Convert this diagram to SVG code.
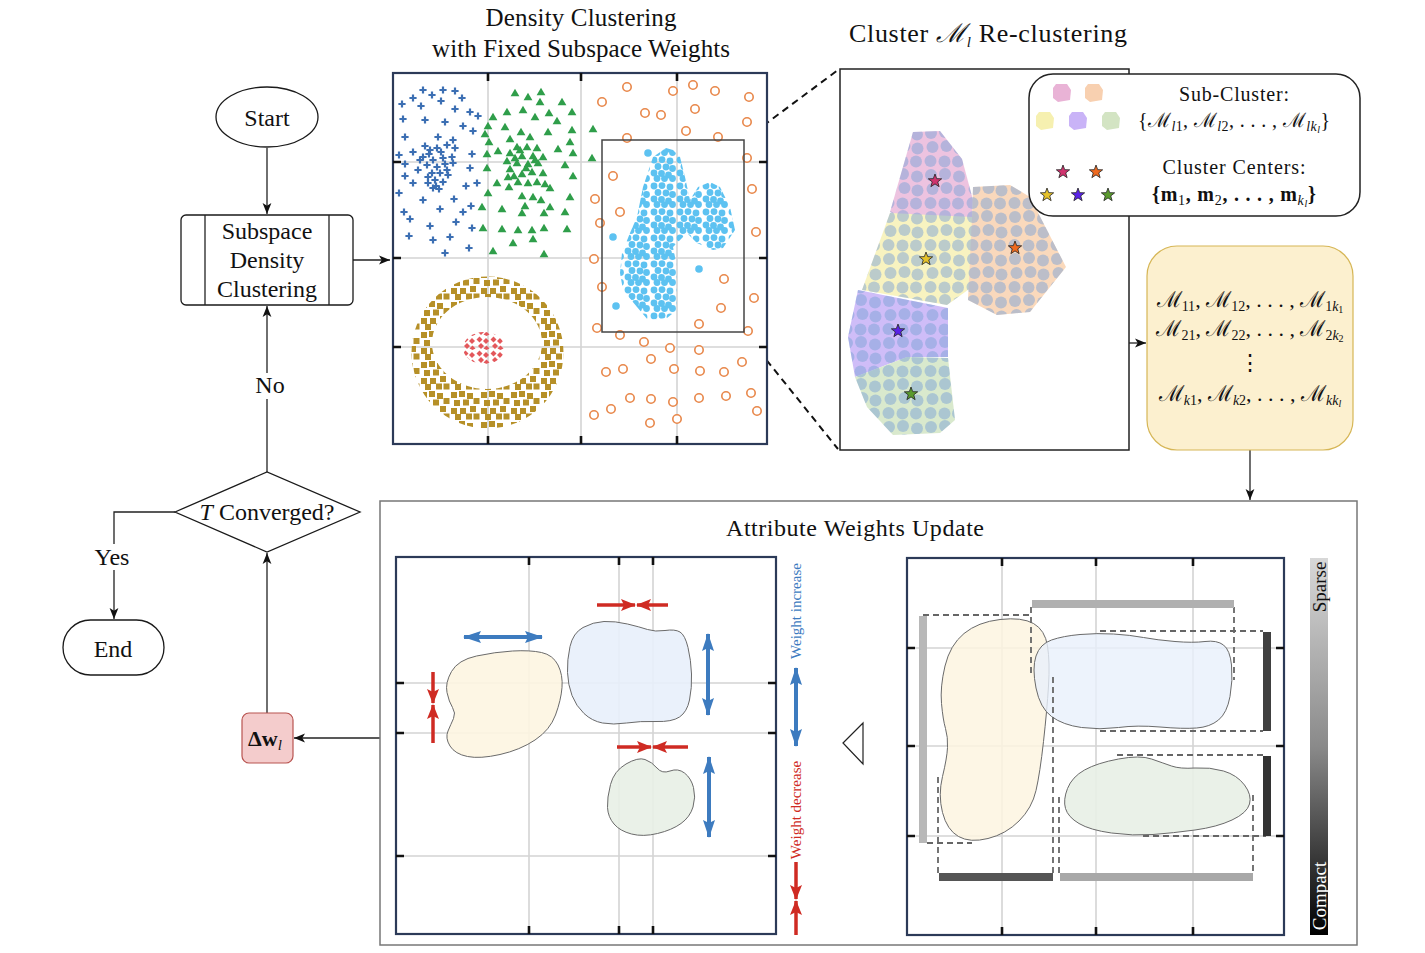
<svg xmlns="http://www.w3.org/2000/svg" width="1425" height="953" viewBox="0 0 1425 953">
<defs>
<style>
text{font-family:"Liberation Serif","DejaVu Serif",serif;fill:#111}
.t24{font-size:24px}
.t25{font-size:25px}
.leg{font-size:20px}
.sb{font-size:14px}
.node{fill:#fff;stroke:#1a1a1a;stroke-width:1.3}
.conn{fill:none;stroke:#222;stroke-width:1.3}
.grid{stroke:#d4d4d4;stroke-width:1.6;fill:none}
.tick{stroke:#111;stroke-width:2.6}
.frame{fill:#fff;stroke:#2c3a58;stroke-width:2.2}
.blob{stroke:#6a6a6a;stroke-width:1}
.dash{stroke:#666;stroke-width:1.8;stroke-dasharray:6 4;fill:none}
.bl{stroke:#3d7bbf;stroke-width:4;fill:none}
.rd{stroke:#cf2b23;stroke-width:3.5;fill:none}
.pts{fill:none;stroke:none}
</style>
<marker id="ah" viewBox="0 0 10 10" refX="10" refY="5" markerWidth="11" markerHeight="11" markerUnits="userSpaceOnUse" orient="auto"><path d="M0,1 L10,5 L0,9 L2.5,5 Z" fill="#111"/></marker>
<marker id="bh" viewBox="0 0 18 12" refX="17" refY="6" markerWidth="18" markerHeight="12" markerUnits="userSpaceOnUse" orient="auto-start-reverse"><path d="M0,0 L18,6 L0,12 L3,6 Z" fill="#3d7bbf"/></marker>
<marker id="rh" viewBox="0 0 15 12" refX="14" refY="6" markerWidth="15" markerHeight="12" markerUnits="userSpaceOnUse" orient="auto"><path d="M0,0 L15,6 L0,12 L3,6 Z" fill="#cf2b23"/></marker>
<marker id="mCr" viewBox="-5 -5 10 10" refX="0" refY="0" markerWidth="10" markerHeight="10" markerUnits="userSpaceOnUse"><path d="M-3.6,0H3.6M0,-3.6V3.6" stroke="#3c6fb3" stroke-width="2.2"/></marker>
<marker id="mTr" viewBox="-5 -5 10 10" refX="0" refY="0" markerWidth="10" markerHeight="10" markerUnits="userSpaceOnUse"><path d="M0,-4.3 L4.4,3.3 L-4.4,3.3 Z" fill="#2f9e4a"/></marker>
<marker id="mOc" viewBox="-6 -6 12 12" refX="0" refY="0" markerWidth="12" markerHeight="12" markerUnits="userSpaceOnUse"><circle r="4.2" fill="#fff" stroke="#e8874a" stroke-width="1.6"/></marker>
<marker id="mLb" viewBox="-5 -5 10 10" refX="0" refY="0" markerWidth="10" markerHeight="10" markerUnits="userSpaceOnUse"><circle r="3.8" fill="#5dc2f1"/></marker>
<pattern id="pDot" width="26" height="26" patternUnits="userSpaceOnUse"><g fill="#5dc2f1"><circle cx="4" cy="4" r="3.4"/><circle cx="12" cy="3.6" r="3.4"/><circle cx="20" cy="5" r="3.4"/><circle cx="8" cy="10.5" r="3.4"/><circle cx="16" cy="11" r="3.4"/><circle cx="22.5" cy="12.5" r="3.4"/><circle cx="4" cy="17" r="3.4"/><circle cx="11.5" cy="17.5" r="3.4"/><circle cx="18.5" cy="19" r="3.4"/><circle cx="7" cy="22.5" r="3.4"/><circle cx="14.5" cy="22.6" r="3.4"/><circle cx="22.5" cy="22.5" r="3.4"/></g></pattern>
<pattern id="pSq" width="30" height="30" patternUnits="userSpaceOnUse"><g fill="#b69028"><rect x="1" y="2" width="6" height="6"/><rect x="9" y="1" width="6" height="6"/><rect x="17" y="3" width="6" height="6"/><rect x="23.5" y="8" width="6" height="6"/><rect x="4" y="10" width="6" height="6"/><rect x="13" y="9.5" width="6" height="6"/><rect x="20" y="16" width="6" height="6"/><rect x="1" y="18" width="6" height="6"/><rect x="10" y="18" width="6" height="6"/><rect x="16" y="23.5" width="6" height="6"/><rect x="5" y="24" width="6" height="6"/><rect x="23.5" y="23.5" width="6" height="6"/></g></pattern>
<pattern id="pDia" width="14" height="14" patternUnits="userSpaceOnUse"><g fill="#e3575b"><polygon points="3.5,0.5 6.5,3.5 3.5,6.5 0.5,3.5"/><polygon points="10,2 13,5 10,8 7,5"/><polygon points="5,7 8,10 5,13 2,10"/><polygon points="10.5,9.5 13.5,12.5 10.5,13.9 7.5,12.5"/></g></pattern>
<pattern id="pC" width="42" height="42" patternUnits="userSpaceOnUse"><g fill="#7ea3d6" fill-opacity="0.5"><circle cx="7" cy="7" r="6"/><circle cx="21" cy="6" r="6"/><circle cx="35" cy="8.5" r="6"/><circle cx="8.5" cy="21" r="6"/><circle cx="22.5" cy="20" r="6"/><circle cx="35.5" cy="22.5" r="6"/><circle cx="6.5" cy="35" r="6"/><circle cx="20.5" cy="35.5" r="6"/><circle cx="34" cy="35.5" r="6"/></g></pattern>
<clipPath id="subclip">
<polygon points="913,132 940,131 962,159 973,200 972,217 910,222 890,212"/>
<polygon points="890,213 972,217 972,287 947,305 862,290"/>
<polygon points="973,187 1010,185 1030,197 1066,267 1030,312 997,315 968,300 972,217"/>
<polygon points="858,290 948,308 948,357 907,357 855,377 848,337"/>
<polygon points="855,377 907,357 948,358 955,420 940,433 893,435 867,407"/>
</clipPath>
<path id="star" d="M0,-7 L1.7,-2.35 L6.66,-2.16 L2.76,0.9 L4.11,5.66 L0,2.9 L-4.11,5.66 L-2.76,0.9 L-6.66,-2.16 L-1.7,-2.35 Z" stroke="#222" stroke-width="0.8"/>
<path id="lblob" d="M-6,-9 L5,-9 L9,-3 L8,7 L-4,9 L-9,5 L-9,-5 Z"/>
<linearGradient id="gbar" x1="0" y1="0" x2="0" y2="1"><stop offset="0" stop-color="#d8d8d8"/><stop offset="0.5" stop-color="#8a8a8a"/><stop offset="1" stop-color="#000"/></linearGradient>
</defs>

<rect width="1425" height="953" fill="#fff"/>

<!-- connectors -->
<g id="connectors">
<line class="conn" x1="267" y1="148" x2="267" y2="214" marker-end="url(#ah)"/>
<line class="conn" x1="353" y1="260" x2="390" y2="260" marker-end="url(#ah)"/>
<line class="conn" x1="267" y1="472" x2="267" y2="306" marker-end="url(#ah)"/>
<polyline class="conn" points="175,512 114,512 114,619" marker-end="url(#ah)"/>
<line class="conn" x1="267" y1="713" x2="267" y2="553" marker-end="url(#ah)"/>
<line class="conn" x1="380" y1="738" x2="294" y2="738" marker-end="url(#ah)"/>
<line class="conn" x1="1129" y1="343" x2="1146" y2="343" marker-end="url(#ah)"/>
<line class="conn" x1="1250" y1="450" x2="1250" y2="500" marker-end="url(#ah)"/>
<line x1="744" y1="140" x2="838" y2="70" stroke="#111" stroke-width="2" stroke-dasharray="7 5"/>
<line x1="744" y1="332" x2="838" y2="449" stroke="#111" stroke-width="2" stroke-dasharray="7 5"/>
<rect x="254" y="373" width="32" height="26" fill="#fff"/>
<text x="270" y="393" text-anchor="middle" class="t24">No</text>
<rect x="92" y="544" width="42" height="26" fill="#fff"/>
<text x="112" y="565" text-anchor="middle" class="t24">Yes</text>
</g>

<!-- flowchart nodes -->
<g id="start"><ellipse class="node" cx="267" cy="117" rx="51" ry="30" stroke-width="2"/><text x="267" y="126" text-anchor="middle" class="t24">Start</text></g>
<g id="subspace">
<rect class="node" x="181" y="215" width="172" height="90" rx="5"/>
<line class="conn" x1="205" y1="215" x2="205" y2="305"/><line class="conn" x1="329" y1="215" x2="329" y2="305"/>
<text x="267" y="239" text-anchor="middle" class="t24">Subspace</text>
<text x="267" y="268" text-anchor="middle" class="t24">Density</text>
<text x="267" y="297" text-anchor="middle" class="t24">Clustering</text>
</g>
<g id="converged"><polygon class="node" points="175,512 267,472 360,512 267,552"/><text x="267" y="520" text-anchor="middle" class="t24"><tspan font-style="italic">T</tspan> Converged?</text></g>
<g id="end"><rect class="node" x="63" y="620" width="101" height="55" rx="27.5" stroke-width="2"/><text x="113" y="657" text-anchor="middle" class="t24">End</text></g>
<g id="deltaw"><rect x="242" y="713" width="51" height="50" rx="7" fill="#f4cccc" stroke="#b85450" stroke-width="1.2"/><text x="265" y="746" text-anchor="middle" font-size="22" font-weight="bold">Δw<tspan font-style="italic" font-weight="normal" font-size="15" dy="4">l</tspan></text></g>

<!-- scatter panel -->
<g id="scatter-panel">
<text x="581" y="26" text-anchor="middle" class="t25" textLength="191" lengthAdjust="spacing">Density Clustering</text>
<text x="581" y="57" text-anchor="middle" class="t25" textLength="298" lengthAdjust="spacing">with Fixed Subspace Weights</text>
<rect class="frame" x="393" y="73" width="374" height="371"/>
<path class="grid" d="M488,73V444M581,73V444M677,73V444M393,162H767M393,258H767M393,347H767"/>
<path class="tick" d="M488,73v8M581,73v8M677,73v8M488,444v-8M581,444v-8M677,444v-8M393,162h8M393,258h8M393,347h8M767,162h-8M767,258h-8M767,347h-8"/>
<path class="pts" marker-start="url(#mCr)" marker-mid="url(#mCr)" marker-end="url(#mCr)" d="M423,90 L443,90 L455,91 L413,98 L432,95 L462,98 L402,104 L421,106 L441,101 L455,109 L470,112 L478,116 L403,119 L425,120 L445,122 L463,126 L473,131 L405,137 L438,137 L453,140 L413,152 L399,155 L425,146 L429,154 L437,148 L447,145 L455,148 L472,154 L423,157 L433,160 L443,158 L452,157 L427,165 L437,167 L445,164 L453,163 L405,164 L470,168 L432,173 L440,173 L448,175 L405,176 L435,180 L443,182 L413,183 L428,183 L477,183 L466,186 L433,188 L439,189 L399,193 L423,200 L454,199 L440,209 L463,212 L471,206 L404,212 L410,219 L456,222 L430,226 L472,228 L409,236 L450,237 L433,240 L469,248 L445,253 L430,150 L441,152 L420,160 L447,170 L428,177 L436,186 L418,170"/>
<path class="pts" marker-start="url(#mTr)" marker-mid="url(#mTr)" marker-end="url(#mTr)" d="M515,93 L541,92 L528,97 L540,102 L562,102 L507,112 L523,110 L549,113 L572,112 L493,117 L535,117 L557,121 L488,126 L505,127 L521,132 L548,132 L572,130 L593,129 L485,134 L530,137 L489,142 L510,139 L570,142 L517,147 L527,147 L537,148 L558,149 L498,151 L487,154 L510,153 L522,156 L533,156 L543,157 L573,153 L592,158 L507,161 L517,163 L528,164 L538,163 L565,165 L487,168 L510,169 L522,174 L532,172 L543,173 L508,177 L573,176 L518,182 L528,183 L537,182 L545,184 L497,183 L509,187 L550,188 L488,193 L522,196 L533,197 L541,200 L570,197 L502,209 L525,206 L550,207 L482,207 L544,213 L565,212 L522,213 L483,228 L502,229 L518,230 L532,230 L544,228 L567,229 L533,239 L513,243 L493,251 L544,254 L515,158 L526,168 L520,150 L535,160 L514,176"/>
<path class="pts" marker-start="url(#mOc)" marker-mid="url(#mOc)" marker-end="url(#mOc)" d="M627,87 L673,91 L693,85 L715,91 L749,97 L602,102 L695,109 L645,113 L661,115 L747,122 L686,131 L627,138 L718,137 L747,158 L613,176 L752,189 L595,199 L620,212 L600,223 L756,232 L594,259 L724,279 L602,287 L754,298 L721,308 L597,328 L699,324 L748,331 L620,335 L644,342 L670,348 L699,350 L651,359 L742,362 L623,369 L606,372 L674,369 L700,371 L724,372 L630,398 L651,399 L673,402 L699,398 L726,396 L751,393 L611,409 L757,411 L594,415 L650,423 L677,419"/>
<path fill="url(#pDot)" d="M666,148 L653,157 L643,187 L637,217 L630,233 L622,253 L620,273 L623,290 L637,307 L648,320 L667,318 L677,310 L677,267 L673,247 L687,233 L697,243 L713,250 L723,248 L735,230 L730,207 L720,187 L710,182 L698,187 L690,200 L685,177 L680,157 L673,150 Z"/>
<path class="pts" marker-start="url(#mLb)" marker-mid="url(#mLb)" marker-end="url(#mLb)" d="M648,153 L613,237 L616,306 L699,269"/>
<path fill="url(#pSq)" fill-rule="evenodd" d="M411.5,352.5 a76,76 0 1,0 152,0 a76,76 0 1,0 -152,0 Z M432,343 a55,46 0 1,0 110,0 a55,46 0 1,0 -110,0 Z"/>
<ellipse cx="484" cy="348" rx="21" ry="16" fill="url(#pDia)"/>
<rect x="602" y="140" width="142" height="192" fill="none" stroke="#444" stroke-width="1.5"/>
</g>

<!-- re-clustering panel -->
<g id="recluster-panel">
<text x="849" y="42" font-size="26" textLength="278" lengthAdjust="spacing">Cluster <tspan font-style="italic">ℳ</tspan><tspan font-size="15" font-style="italic" dy="5">l</tspan><tspan dy="-5"> Re-clustering</tspan></text>
<rect x="840" y="69" width="289" height="381" fill="#fff" stroke="#222" stroke-width="1.5"/>
<g opacity="0.75">
<polygon points="913,132 940,131 962,159 973,200 972,217 910,222 890,212" fill="#e8b0d6"/>
<polygon points="890,213 972,217 972,287 947,305 862,290" fill="#f6f0ac"/>
<polygon points="973,187 1010,185 1030,197 1066,267 1030,312 997,315 968,300 972,217" fill="#f8cca6"/>
<polygon points="858,290 948,308 948,357 907,357 855,377 848,337" fill="#c0a8f6"/>
<polygon points="855,377 907,357 948,358 955,420 940,433 893,435 867,407" fill="#cde2bd"/>
</g>
<rect x="840" y="120" width="240" height="330" fill="url(#pC)" clip-path="url(#subclip)"/>
<use href="#star" x="935" y="181" fill="#d0336e"/>
<use href="#star" x="926" y="259" fill="#e6c22a"/>
<use href="#star" x="1015" y="248" fill="#ef6a1f"/>
<use href="#star" x="898" y="331" fill="#5a22e8"/>
<use href="#star" x="911" y="394" fill="#5a9a2e"/>
</g>

<g id="legend">
<rect x="1029" y="74" width="331" height="142" rx="24" fill="#fff" stroke="#222" stroke-width="1.5"/>
<use href="#lblob" x="1062" y="93" fill="#e9b3d6"/>
<use href="#lblob" x="1094" y="93" fill="#f8d0b0"/>
<use href="#lblob" x="1045" y="121" fill="#f6f0b0"/>
<use href="#lblob" x="1078" y="121" fill="#c9b3f7"/>
<use href="#lblob" x="1111" y="121" fill="#d3e4c3"/>
<use href="#star" x="1063" y="172" fill="#d0336e"/>
<use href="#star" x="1096" y="172" fill="#ef6a1f"/>
<use href="#star" x="1047" y="195" fill="#e6c22a"/>
<use href="#star" x="1078" y="195" fill="#5a22e8"/>
<use href="#star" x="1108" y="195" fill="#5a9a2e"/>
<text x="1234" y="101" text-anchor="middle" class="leg" textLength="110" lengthAdjust="spacing">Sub-Cluster:</text>
<text x="1234" y="127" text-anchor="middle" class="leg" textLength="192" lengthAdjust="spacing">{ℳ<tspan class="sb" dy="4"><tspan font-style="italic">l</tspan>1</tspan><tspan dy="-4">, ℳ</tspan><tspan class="sb" dy="4"><tspan font-style="italic">l</tspan>2</tspan><tspan dy="-4">, . . . , ℳ</tspan><tspan class="sb" dy="4" font-style="italic">lk</tspan><tspan font-size="10" dy="2" font-style="italic">l</tspan><tspan dy="-6">}</tspan></text>
<text x="1234" y="174" text-anchor="middle" class="leg" textLength="143" lengthAdjust="spacing">Cluster Centers:</text>
<text x="1234" y="201" text-anchor="middle" class="leg" font-weight="bold" textLength="164" lengthAdjust="spacing">{m<tspan class="sb" dy="4" font-weight="normal">1</tspan><tspan dy="-4">, m</tspan><tspan class="sb" dy="4" font-weight="normal">2</tspan><tspan dy="-4">, . . . , m</tspan><tspan class="sb" dy="4" font-weight="normal" font-style="italic">k</tspan><tspan font-size="10" dy="2" font-weight="normal" font-style="italic">l</tspan><tspan dy="-6">}</tspan></text>
</g>

<g id="subclusters">
<rect x="1147" y="246" width="206" height="204" rx="30" fill="#fcf0cf" stroke="#d6b656" stroke-width="1.2"/>
<text x="1250" y="307" text-anchor="middle" font-size="22">ℳ<tspan class="sb" dy="4">11</tspan><tspan dy="-4">, ℳ</tspan><tspan class="sb" dy="4">12</tspan><tspan dy="-4">, . . . , ℳ</tspan><tspan class="sb" dy="4">1<tspan font-style="italic">k</tspan></tspan><tspan font-size="10" dy="2">1</tspan></text>
<text x="1250" y="336" text-anchor="middle" font-size="22">ℳ<tspan class="sb" dy="4">21</tspan><tspan dy="-4">, ℳ</tspan><tspan class="sb" dy="4">22</tspan><tspan dy="-4">, . . . , ℳ</tspan><tspan class="sb" dy="4">2<tspan font-style="italic">k</tspan></tspan><tspan font-size="10" dy="2">2</tspan></text>
<text x="1250" y="370" text-anchor="middle" font-size="22">⋮</text>
<text x="1250" y="401" text-anchor="middle" font-size="22">ℳ<tspan class="sb" dy="4"><tspan font-style="italic">k</tspan>1</tspan><tspan dy="-4">, ℳ</tspan><tspan class="sb" dy="4"><tspan font-style="italic">k</tspan>2</tspan><tspan dy="-4">, . . . , ℳ</tspan><tspan class="sb" dy="4" font-style="italic">kk</tspan><tspan font-size="10" dy="2" font-style="italic">l</tspan></text>
</g>

<!-- attribute weights update panel -->
<g id="update-panel">
<rect x="380" y="501" width="977" height="444" fill="#fff" stroke="#777" stroke-width="1.5"/>
<text x="855" y="536" text-anchor="middle" class="t24" textLength="258" lengthAdjust="spacing">Attribute Weights Update</text>

<rect class="frame" x="396" y="557" width="380" height="377"/>
<path class="grid" d="M529,557V934M619,557V934M653,557V934M396,683H776M396,733H776M396,856H776"/>
<path class="tick" d="M529,557v8M619,557v8M653,557v8M529,934v-8M619,934v-8M653,934v-8M396,683h8M396,733h8M396,856h8M776,683h-8M776,733h-8M776,856h-8"/>
<path class="blob" fill="#fdf5e1" fill-opacity="0.9" d="M451.5,671.5 Q458,660 476.5,656 Q495,652 512.5,651 Q530,650 541.5,652.5 Q553,655 558,665 Q563,675 562,687.5 Q561,700 555.5,715 Q550,730 535,740 Q520,750 500,754.5 Q480,759 467.5,756.5 Q455,754 450,746 Q445,738 448,731 Q451,724 453.5,718.5 Q456,713 452.5,707.5 Q449,702 447,692.5 Q445,683 451.5,671.5 Z"/>
<path class="blob" fill="#e8f0fb" fill-opacity="0.9" d="M570,646.5 Q573,633 583,627.5 Q593,622 604,621.5 Q615,621 627.5,624 Q640,627 647.5,629.5 Q655,632 665,630.5 Q675,629 680,632 Q685,635 688,647.5 Q691,660 691.5,674 Q692,688 689.5,700 Q687,712 679.5,717 Q672,722 656,721.5 Q640,721 626.5,723 Q613,725 602.5,723 Q592,721 584,713.5 Q576,706 572,695.5 Q568,685 567.5,672.5 Q567,660 570,646.5 Z"/>
<path class="blob" fill="#e8f0e6" fill-opacity="0.9" d="M610.5,784.5 Q614,771 626,764 Q638,757 645,759.5 Q652,762 657,768 Q662,774 670,771 Q678,768 684.5,773 Q691,778 693.5,787.5 Q696,797 693,807 Q690,817 681,823.5 Q672,830 657.5,833.5 Q643,837 631.5,834 Q620,831 614,824 Q608,817 607.5,807.5 Q607,798 610.5,784.5 Z"/>
<line class="bl" x1="464" y1="637" x2="542" y2="637" marker-start="url(#bh)" marker-end="url(#bh)"/>
<line class="bl" x1="708" y1="634" x2="708" y2="715" marker-start="url(#bh)" marker-end="url(#bh)"/>
<line class="bl" x1="709" y1="757" x2="709" y2="837" marker-start="url(#bh)" marker-end="url(#bh)"/>
<line class="rd" x1="433" y1="672" x2="433" y2="703" marker-end="url(#rh)"/>
<line class="rd" x1="433" y1="743" x2="433" y2="705" marker-end="url(#rh)"/>
<line class="rd" x1="597" y1="605" x2="635" y2="605" marker-end="url(#rh)"/>
<line class="rd" x1="668" y1="605" x2="637" y2="605" marker-end="url(#rh)"/>
<line class="rd" x1="617" y1="747" x2="651" y2="747" marker-end="url(#rh)"/>
<line class="rd" x1="688" y1="747" x2="653" y2="747" marker-end="url(#rh)"/>

<text transform="translate(801,611) rotate(-90)" text-anchor="middle" font-size="15" style="fill:#3d7bbf">Weight increase</text>
<line class="bl" x1="796" y1="668" x2="796" y2="746" marker-start="url(#bh)" marker-end="url(#bh)"/>
<text transform="translate(801,810) rotate(-90)" text-anchor="middle" font-size="15" style="fill:#cf2b23">Weight decrease</text>
<line class="rd" x1="796" y1="862" x2="796" y2="899" marker-end="url(#rh)"/>
<line class="rd" x1="796" y1="935" x2="796" y2="901" marker-end="url(#rh)"/>

<polygon points="843,743 863,723 863,764" fill="#fff" stroke="#222" stroke-width="1.2"/>

<rect class="frame" x="907" y="558" width="377" height="377"/>
<path class="grid" d="M1002,558V935M1096,558V935M1193,558V935M907,648H1284M907,746H1284M907,836H1284"/>
<path class="tick" d="M1002,558v8M1096,558v8M1193,558v8M1002,935v-8M1096,935v-8M1193,935v-8M907,648h8M907,746h8M907,836h8M1284,648h-8M1284,746h-8M1284,836h-8"/>
<path class="blob" fill="#fdf5e1" fill-opacity="0.85" d="M941.5,703.5 Q940,687 945,666 Q950,645 964,633.5 Q978,622 1000,619.5 Q1022,617 1033.5,623.5 Q1045,630 1047.5,646 Q1050,662 1048.5,686 Q1047,710 1043.5,741.5 Q1040,773 1036,790.5 Q1032,808 1019,821 Q1006,834 988,838.5 Q970,843 958.5,836.5 Q947,830 942.5,812.5 Q938,795 942.5,776.5 Q947,758 947.5,747.5 Q948,737 945.5,728.5 Q943,720 941.5,703.5 Z"/>
<path class="blob" fill="#e8f0fb" fill-opacity="0.8" d="M1036,656 Q1040,644 1051.5,640 Q1063,636 1080,634.5 Q1097,633 1113.5,634 Q1130,635 1143.5,637.5 Q1157,640 1175,641.5 Q1193,643 1205,641.5 Q1217,640 1223.5,645 Q1230,650 1231.5,665 Q1233,680 1230,696.5 Q1227,713 1218.5,720 Q1210,727 1196.5,728 Q1183,729 1160,727 Q1137,725 1118.5,727.5 Q1100,730 1081.5,727.5 Q1063,725 1051.5,716.5 Q1040,708 1036,688 Q1032,668 1036,656 Z"/>
<path class="blob" fill="#e8f0e6" fill-opacity="0.9" d="M1067.5,788.5 Q1072,777 1084.5,770 Q1097,763 1118.5,759 Q1140,755 1151.5,759 Q1163,763 1171.5,766 Q1180,769 1195,768 Q1210,767 1223.5,771 Q1237,775 1244.5,785 Q1252,795 1249.5,804 Q1247,813 1232,820 Q1217,827 1195,830 Q1173,833 1153,834.5 Q1133,836 1111.5,833 Q1090,830 1079,823.5 Q1068,817 1065.5,808.5 Q1063,800 1067.5,788.5 Z"/>
<path class="dash" d="M923,615H1030M927,843H972M1031,607V675M1234,607V680M1100,631H1263M1100,731H1263M938,777V873M1053,677V873M1059,797V873M1253,795V873M1117,755H1266M1143,836H1266"/>
<g stroke-width="8">
<line x1="923" y1="616" x2="923" y2="843" stroke="#b8b8b8"/>
<line x1="1032" y1="604" x2="1234" y2="604" stroke="#b0b0b0"/>
<line x1="1267" y1="632" x2="1267" y2="731" stroke="#404040"/>
<line x1="1267" y1="756" x2="1267" y2="836" stroke="#333"/>
<line x1="939" y1="877" x2="1053" y2="877" stroke="#555"/>
<line x1="1060" y1="877" x2="1253" y2="877" stroke="#a8a8a8"/>
</g>
<rect x="1310" y="558" width="18" height="377" fill="url(#gbar)"/>
<text transform="translate(1326,587) rotate(-90)" text-anchor="middle" font-size="19">Sparse</text>
<text transform="translate(1326,896) rotate(-90)" text-anchor="middle" font-size="19" style="fill:#fff">Compact</text>
</g>
</svg>
